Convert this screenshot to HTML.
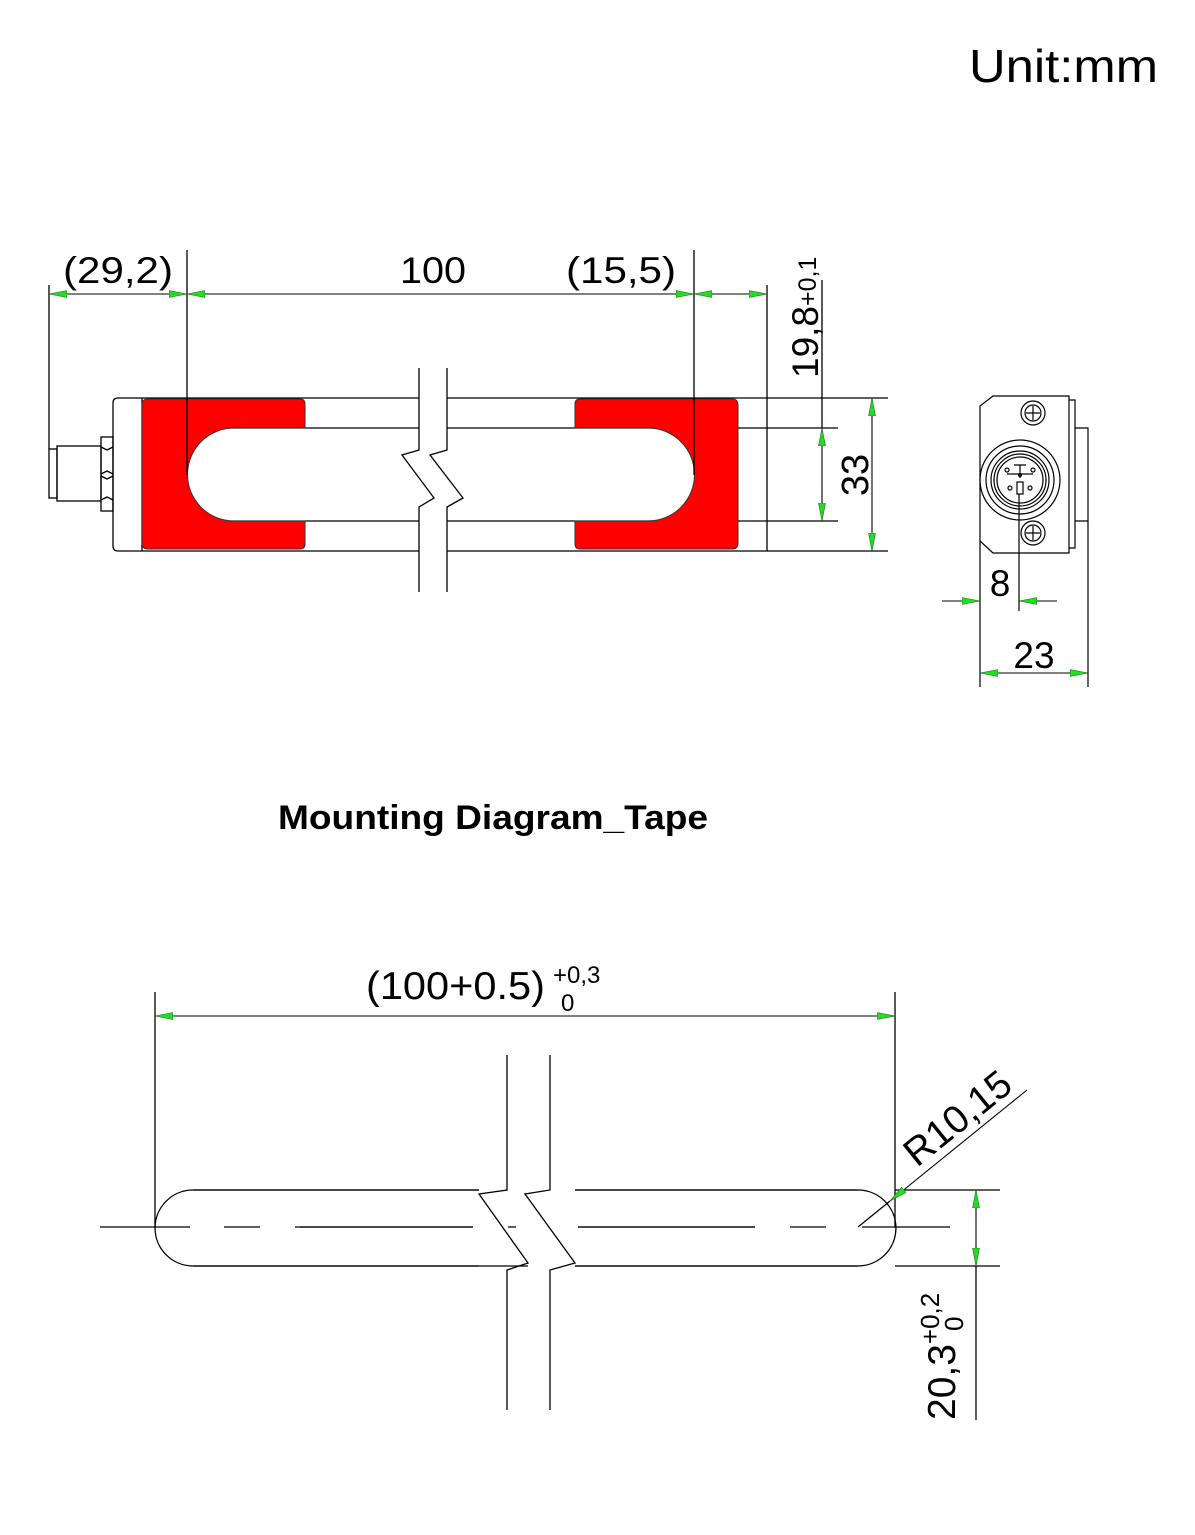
<!DOCTYPE html>
<html><head><meta charset="utf-8"><style>
html,body{margin:0;padding:0;background:#fff}
svg{display:block}
text{font-family:"Liberation Sans",Arial,sans-serif;fill:#000}
</style></head><body>
<svg width="1195" height="1535" viewBox="0 0 1195 1535" xmlns="http://www.w3.org/2000/svg">
<defs>
<marker id="a" markerUnits="userSpaceOnUse" markerWidth="20" markerHeight="10" refX="18" refY="3.5" orient="auto-start-reverse" viewBox="0 0 20 7">
<path d="M0,0 L18,3.5 L0,7 Z" fill="#22dd22" stroke="#226622" stroke-width="0.6"/>
</marker>
</defs>
<text x="969" y="82" font-size="46" textLength="189" lengthAdjust="spacingAndGlyphs">Unit:mm</text>

<!-- TOP VIEW -->
<g stroke="#000" stroke-width="1.3" fill="none">
<line x1="118" y1="398" x2="888" y2="398"/>
<line x1="118" y1="551" x2="888" y2="551"/>
<line x1="233" y1="428" x2="838" y2="428"/>
<line x1="233" y1="521" x2="838" y2="521"/>
<path d="M118,398 Q113,398 113,403 V546 Q113,551 118,551"/>
<line x1="767" y1="398" x2="767" y2="551"/>
<line x1="142" y1="398" x2="142" y2="551"/>
<rect x="101" y="437" width="12" height="74"/>
<path d="M101,447 L107,450 L113,447 M101,474 L107,471 L113,474 M101,476 L107,479 L113,476 M101,500 L107,497 L113,500"/>
<rect x="57" y="446" width="44" height="55"/>
<rect x="49" y="449" width="8" height="49"/>
</g>
<path d="M305,404 V428 H234 A46.5,46.5 0 0 0 234,521 H305 V544 Q305,549 300,549 H148 Q142,549 142,543 V405 Q142,399 148,399 H300 Q305,399 305,404 Z" fill="#ff0000" stroke="#333" stroke-width="1"/>
<path d="M575,404 V428 H648 A46.5,46.5 0 0 1 648,521 H575 V544 Q575,549 580,549 H732 Q738,549 738,543 V405 Q738,399 732,399 H580 Q575,399 575,404 Z" fill="#ff0000" stroke="#333" stroke-width="1"/>
<polygon points="419,368 447,368 447,450 430,455 463,498 447,507 447,592 419,592 419,507 434,498 402,455 419,450" fill="#fff"/>
<g stroke="#000" stroke-width="1.3" fill="none">
<polyline points="419,368 419,450 402,455 434,498 419,507 419,592"/>
<polyline points="447,368 447,450 430,455 463,498 447,507 447,592"/>
<line x1="49" y1="285" x2="49" y2="449"/>
<line x1="187" y1="250" x2="187" y2="475"/>
<line x1="694" y1="250" x2="694" y2="475"/>
<line x1="767" y1="285" x2="767" y2="398"/>
<line x1="822" y1="280" x2="822" y2="428"/>
</g>
<g stroke="#000" stroke-width="1.1">
<line x1="49" y1="294" x2="187" y2="294" marker-start="url(#a)" marker-end="url(#a)"/>
<line x1="187" y1="294" x2="694" y2="294" marker-start="url(#a)" marker-end="url(#a)"/>
<line x1="694" y1="294" x2="767" y2="294" marker-start="url(#a)" marker-end="url(#a)"/>
<line x1="822" y1="428" x2="822" y2="521" marker-start="url(#a)" marker-end="url(#a)"/>
<line x1="872" y1="398" x2="872" y2="551" marker-start="url(#a)" marker-end="url(#a)"/>
</g>
<text x="63" y="283" font-size="37" textLength="110" lengthAdjust="spacingAndGlyphs">(29,2)</text>
<text x="400" y="283" font-size="37" textLength="66" lengthAdjust="spacingAndGlyphs">100</text>
<text x="566" y="283" font-size="37" textLength="110" lengthAdjust="spacingAndGlyphs">(15,5)</text>
<text transform="translate(818,378) rotate(-90)" font-size="37">19,8<tspan font-size="25" dy="-2">+0,1</tspan></text>
<text transform="translate(868,475) rotate(-90)" font-size="38" text-anchor="middle">33</text>

<!-- SIDE VIEW -->
<g stroke="#000" stroke-width="1.2" fill="none">
<path d="M993,396 H1069 V553 H993 L980,541 V406 Z"/>
<path d="M1069,400 H1075 V548 H1069"/>
<path d="M1075,428 H1088 V521 H1075"/>
<circle cx="1020" cy="480" r="40"/>
<circle cx="1020" cy="480" r="34"/>
<circle cx="1020" cy="480" r="29"/>
<circle cx="1020" cy="480" r="26"/>
<circle cx="1020" cy="480" r="23"/>
<circle cx="1033" cy="413" r="12"/>
<circle cx="1033" cy="413" r="8"/>
<path d="M1033,406 V420 M1026,413 H1040"/>
<circle cx="1033" cy="533" r="12"/>
<circle cx="1033" cy="533" r="8"/>
<path d="M1033,526 V540 M1026,533 H1040"/>
<path d="M1014,465 H1026 M1020,465 V478 M1007,474 H1033"/>
<circle cx="1010" cy="488" r="2"/><circle cx="1030" cy="488" r="2"/><circle cx="1020" cy="475" r="1.5"/><circle cx="1007" cy="470" r="2"/><circle cx="1033" cy="470" r="2"/>
<rect x="1017" y="482" width="6" height="12"/>
<line x1="980" y1="541" x2="980" y2="687"/>
<line x1="1019" y1="494" x2="1019" y2="611"/>
<line x1="1088" y1="521" x2="1088" y2="687"/>
</g>
<g stroke="#000" stroke-width="1.1">
<line x1="942" y1="601" x2="980" y2="601" marker-end="url(#a)"/>
<line x1="1057" y1="601" x2="1019" y2="601" marker-end="url(#a)"/>
<line x1="980" y1="673" x2="1088" y2="673" marker-start="url(#a)" marker-end="url(#a)"/>
</g>
<text x="1000" y="596" font-size="37" text-anchor="middle">8</text>
<text x="1034" y="668" font-size="37" text-anchor="middle">23</text>

<text x="278" y="829" font-size="34" font-weight="bold" textLength="430" lengthAdjust="spacingAndGlyphs">Mounting Diagram_Tape</text>

<!-- TAPE -->
<g stroke="#000" stroke-width="1.3" fill="none">
<path d="M193,1190 H858 A38,38 0 0 1 858,1266 H193 A38,38 0 0 1 193,1190 Z"/>
<line x1="155" y1="992" x2="155" y2="1227"/>
<line x1="895" y1="992" x2="895" y2="1227"/>
<line x1="895" y1="1190" x2="1000" y2="1190"/>
<line x1="895" y1="1266" x2="1000" y2="1266"/>
<line x1="976" y1="1266" x2="976" y2="1420"/>
<path d="M100,1227 H190 M224,1227 H260 M295,1227 H473 M508,1227 H543 M578,1227 H755 M790,1227 H826 M862,1227 H950"/>
<line x1="890" y1="1201" x2="858" y2="1227"/>
</g>
<polygon points="479,1188 575,1188 575,1268 479,1268" fill="#fff"/>
<polygon points="507,1055 549,1055 549,1410 507,1410 507,1270 528,1263 480,1194 507,1190" fill="#fff"/>
<g stroke="#000" stroke-width="1.3" fill="none">
<path d="M193,1190 H479 M575,1190 H858 M193,1266 H528 M575,1266 H858"/>
<path d="M300,1227 H473 M508,1227 H516 M578,1227 H755"/>
<polyline points="507,1055 507,1190 479,1194 528,1263 507,1270 507,1410"/>
<polyline points="550,1055 550,1190 525,1194 575,1263 550,1270 550,1410"/>
</g>
<g stroke="#000" stroke-width="1.1">
<line x1="155" y1="1016" x2="895" y2="1016" marker-start="url(#a)" marker-end="url(#a)"/>
<line x1="976" y1="1190" x2="976" y2="1266" marker-start="url(#a)" marker-end="url(#a)"/>
<line x1="1027" y1="1090" x2="890" y2="1201" marker-end="url(#a)"/>
</g>
<text x="366" y="999" font-size="39" textLength="179" lengthAdjust="spacingAndGlyphs">(100+0.5)</text>
<text x="553" y="983" font-size="24">+0,3</text>
<text x="561" y="1011" font-size="24">0</text>
<text transform="translate(917,1168) rotate(-39)" font-size="39">R10,15</text>
<text transform="translate(955,1420) rotate(-90)" font-size="39">20,3<tspan font-size="26" dy="-16">+0,2</tspan></text>
<text transform="translate(963,1331) rotate(-90)" font-size="26">0</text>
</svg>
</body></html>
